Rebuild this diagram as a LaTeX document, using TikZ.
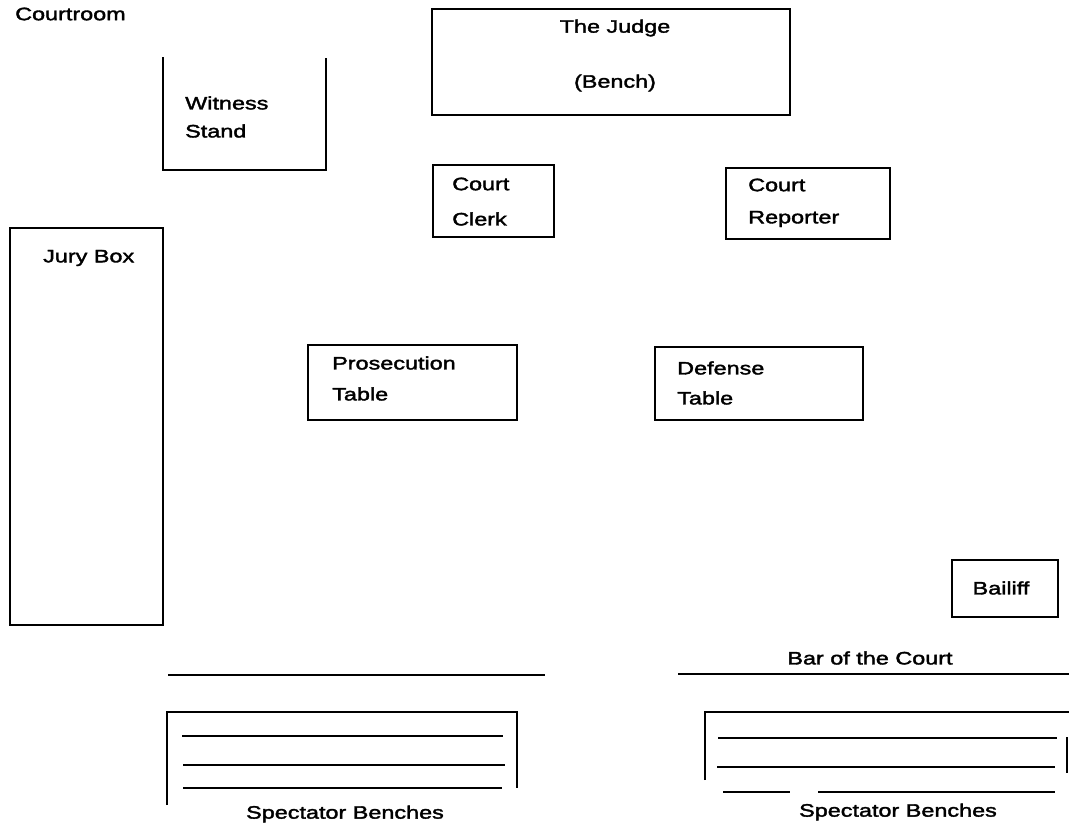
\documentclass[tikz,border=0pt]{standalone}
\usepackage{fontspec}
\setmainfont{Liberation Sans}[FakeStretch=1.3,FakeBold=2]
\begin{document}
\begin{tikzpicture}[x=1pt,y=-1pt,
  box/.style={draw,line width=2pt,inner sep=0pt},
  lbl/.style={inner sep=0pt,anchor=west,font=\fontsize{18}{20}\selectfont},
  clbl/.style={inner sep=0pt,font=\fontsize{18}{20}\selectfont},
  wall/.style={line width=2pt},
  bar/.style={line width=2.8pt},
  bench/.style={line width=1.6pt}]
\useasboundingbox (0,0) rectangle (1069,831);
% title
\node[lbl] (title) at (15,14) {Courtroom};
% judge
\node[box,minimum width=358pt,minimum height=106pt] (judge) at (611,62) {};
\node[clbl] (judgeT) at (615,28) {The Judge};
\node[clbl] (bench) at (615,83) {(Bench)};
% witness stand
\draw[wall] (163,57) -- (163,170) -- (326,170) -- (326,58);
\node[lbl] (wit1) at (185,103) {Witness};
\node[lbl] (wit2) at (185,131) {Stand};
% clerk
\node[box,minimum width=121pt,minimum height=72pt] (clerk) at (493.5,201) {};
\node[lbl] (clerk1) at (452,184) {Court};
\node[lbl] (clerk2) at (452,219) {Clerk};
% reporter
\node[box,minimum width=164pt,minimum height=71pt] (rep) at (808,203.5) {};
\node[lbl] (rep1) at (748,185) {Court};
\node[lbl] (rep2) at (748,219) {Reporter};
% jury
\node[box,minimum width=153pt,minimum height=397pt] (jury) at (86.5,426.5) {};
\node[lbl] (juryT) at (43,258) {Jury Box};
% prosecution
\node[box,minimum width=209pt,minimum height=75pt] (pros) at (412.5,382.5) {};
\node[lbl] (pros1) at (332,363) {Prosecution};
\node[lbl] (pros2) at (332,394) {Table};
% defense
\node[box,minimum width=208pt,minimum height=73pt] (def) at (759,383.5) {};
\node[lbl] (def1) at (677,368) {Defense};
\node[lbl] (def2) at (677,398) {Table};
% bailiff
\node[box,minimum width=106pt,minimum height=57pt] (bail) at (1005,588.5) {};
\node[clbl] (bailT) at (1001,588) {Bailiff};
% bar of the court
\coordinate (barL1) at (168,675);
\coordinate (barL2) at (545,675);
\coordinate (barR1) at (678,674);
\coordinate (barR2) at (1069,674);
\draw[bar] (barL1) -- (barL2);
\draw[bar] (barR1) -- (barR2);
\node[clbl] (barT) at (870,658) {Bar of the Court};
% left spectator benches
\draw[wall] (167,805) -- (167,712) -- (517,712) -- (517,788);
\draw[bench] (182,736) -- (503,736);
\draw[bench] (183,765) -- (505,765);
\draw[bench] (183,788) -- (502,788);
\node[clbl] (specL) at (345,814) {Spectator Benches};
% right spectator benches
\draw[wall] (705,780) -- (705,712) -- (1069,712);
\draw[wall] (1067,737) -- (1067,773);
\draw[bench] (718,738) -- (1057,738);
\draw[bench] (717,767) -- (1055,767);
\draw[bench] (723,792) -- (790,792);
\draw[bench] (818,792) -- (1055,792);
\node[clbl] (specR) at (898,812) {Spectator Benches};
\end{tikzpicture}
\end{document}
